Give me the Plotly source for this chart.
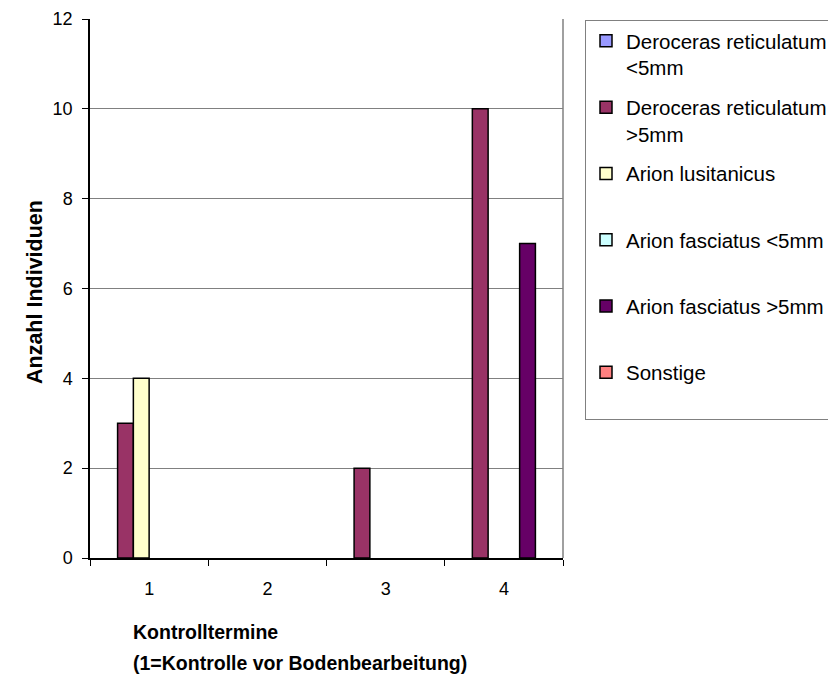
import plotly.graph_objects as go

categories = ["1", "2", "3", "4"]
series_names = [
    "Deroceras reticulatum<br><5mm",
    "Deroceras reticulatum<br>>5mm",
    "Arion lusitanicus<br>&nbsp;",
    "Arion fasciatus <5mm<br>&nbsp;",
    "Arion fasciatus >5mm<br>&nbsp;",
    "Sonstige<br>&nbsp;",
]
dr_small = [0, 0, 0, 0]
dr_large = [3, 0, 2, 10]
arion_lus = [4, 0, 0, 0]
af_small = [0, 0, 0, 0]
af_large = [0, 0, 0, 7]
sonstige = [0, 0, 0, 0]
series_values = [dr_small, dr_large, arion_lus, af_small, af_large, sonstige]
colors = ["#9999FF", "#993366", "#FFFFCC", "#CCFFFF", "#660066", "#FF8080"]
y_ticks = [0, 2, 4, 6, 8, 10, 12]
x_title_lines = ["Kontrolltermine", "(1=Kontrolle vor Bodenbearbeitung)"]
y_title = "Anzahl Individuen"

FONT = "Liberation Sans, Arial, sans-serif"

fig = go.Figure()
for i, (name, vals, col) in enumerate(zip(series_names, series_values, colors)):
    fig.add_trace(go.Bar(
        x=categories, y=[v if v else None for v in vals], name=name,
        legendgroup=f"g{i}",
        marker=dict(color=col, line=dict(color="black", width=1.5)),
    ))

# page body has an 8px margin: work in screen coords minus the offset
OFF = 8
W, H = 836 - OFF, 676 - OFF
L, R, T, B = 90 - OFF, 563 - OFF, 19 - OFF, 558 - OFF
pw, ph = R - L, B - T

def px(x):
    return (x - OFF - L) / pw

def py(y):
    return (B - (y - OFF)) / ph

annotations = [
    dict(
        text=f"<b>{line}</b>",
        xref="paper", yref="paper", x=px(131), y=py(yc),
        xanchor="left", yanchor="middle", align="left", showarrow=False,
        font=dict(family=FONT, size=19.5, color="black"),
    )
    for line, yc in zip(x_title_lines, [632, 663])
]
annotations.append(dict(
    text=f"<b>{y_title}</b>", textangle=-90,
    xref="paper", yref="paper", x=px(35), y=py(292),
    xanchor="center", yanchor="middle", showarrow=False,
    font=dict(family=FONT, size=21.5, color="black"),
))

fig.update_layout(
    width=W, height=H,
    margin=dict(l=L, r=W - R, t=T, b=H - B, autoexpand=False),
    paper_bgcolor="white", plot_bgcolor="white",
    barmode="group", bargap=0.2, bargroupgap=0,
    font=dict(family=FONT, size=18, color="black"),
    showlegend=True,
    legend=dict(
        x=px(585), y=py(20), xanchor="left", yanchor="top",
        bgcolor="white", bordercolor="#808080", borderwidth=1,
        font=dict(family=FONT, size=20.5, color="black"),
        traceorder="grouped", tracegroupgap=10, valign="top",
        itemwidth=30,
    ),
    xaxis=dict(
        type="category", showline=True, linecolor="black", linewidth=1.5,
        ticks="outside", tickson="boundaries", ticklen=6, tickcolor="black",
        showgrid=False, ticklabelstandoff=14, automargin=False,
        tickfont=dict(family=FONT, size=18, color="black"),
    ),
    yaxis=dict(
        range=[0, 12], tickvals=y_ticks, showline=True, linecolor="black",
        linewidth=1.5, ticks="outside", ticklen=6, tickcolor="black",
        showgrid=True, gridcolor="#808080", gridwidth=1, zeroline=False,
        ticklabelstandoff=6, automargin=False,
        tickfont=dict(family=FONT, size=18, color="black"),
    ),
    shapes=[dict(type="line", xref="paper", yref="paper", x0=1, x1=1, y0=0, y1=1,
                 line=dict(color="#808080", width=1.5))],
    annotations=annotations,
)

fig.write_html("out.html")
